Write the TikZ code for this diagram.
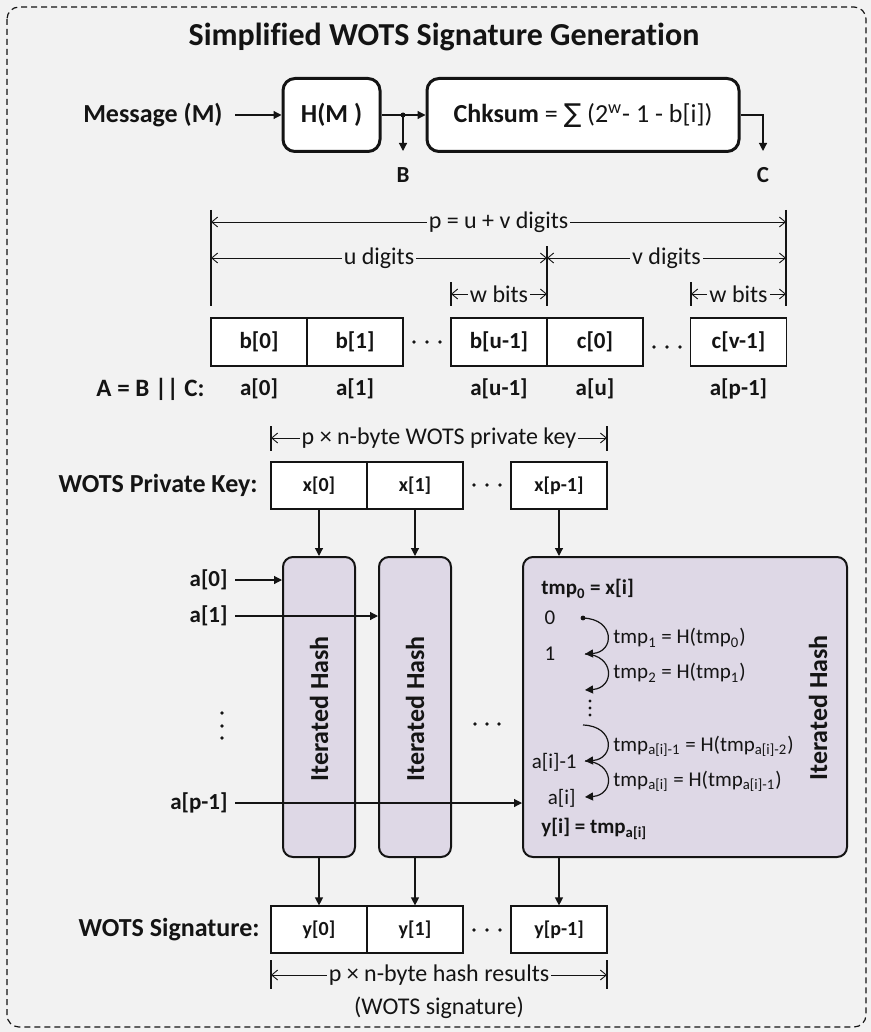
\documentclass[tikz,border=0pt]{standalone}
\usepackage{fontspec}
\setmainfont{Carlito}[Ligatures=NoCommon]
\newfontfamily\symfont{DejaVu Sans}
\usetikzlibrary{arrows.meta}
\definecolor{bgc}{RGB}{242,242,242}
\definecolor{ihfill}{RGB}{222,216,230}
\definecolor{ink}{RGB}{20,20,20}
\newcommand\fsz[1]{\fontsize{#1}{#1}\selectfont}
\begin{document}
\begin{tikzpicture}[x=0.5pt,y=-0.5pt,
  every node/.style={inner sep=0pt,text=ink},
  ttl/.style={font=\fsz{16}\bfseries},
  sidelab/.style={font=\fsz{13}\bfseries},
  lab/.style={font=\fsz{11.5}\bfseries},
  dimtxt/.style={font=\fsz{12},fill=bgc,inner xsep=1pt,inner ysep=1pt},
  steptxt/.style={font=\fsz{10.5}},
  procbox/.style={draw=ink,line width=1.5pt,rounded corners=6pt,fill=white,minimum height=36.5pt},
  cellA/.style={draw=ink,line width=0.6pt,fill=white,minimum width=48pt,minimum height=24pt,font=\fsz{11.5}\bfseries},
  cellB/.style={draw=ink,line width=0.6pt,fill=white,minimum width=48pt,minimum height=23.5pt,font=\fsz{10}\bfseries},
  ihbox/.style={draw=ink,line width=1pt,rounded corners=5pt,fill=ihfill,minimum height=150pt},
  ihtxt/.style={font=\fsz{13}\bfseries,rotate=90},
  arr/.style={draw=ink,line width=0.6pt,-{Triangle[length=4pt,width=4pt]}},
  wire/.style={draw=ink,line width=0.6pt},
  dimline/.style={draw=ink,line width=0.45pt,{Straight Barb[length=3pt,width=5pt]}-{Straight Barb[length=3pt,width=5pt]}},
  dimtick/.style={draw=ink,line width=0.8pt},
]
% background and dashed frame
\fill[bgc] (0,0) rectangle (871,1032);
\draw[ink,line width=0.6pt,dash pattern=on 3pt off 2pt,rounded corners=6pt] (7,7) rectangle (866,1027);

\node[ttl] (title) at (444,37) {Simplified WOTS Signature Generation};

% message digest and checksum
\node[sidelab,anchor=east] (msg) at (223,115) {Message (M)};
\node[procbox,minimum width=48.5pt,font=\fsz{13}\bfseries] (hm) at (331.5,115) {H(M )};
\node[procbox,minimum width=156pt,font=\fsz{13}] (chk) at (583,115)
  {\textbf{Chksum} = {\symfont ∑} (2\textsuperscript{w}- 1 - b[i])};
\coordinate (split) at (403,115);
\coordinate (btip) at (403,151);
\coordinate (ctip) at (763,151);
\node[lab] (B) at (403,175) {B};
\node[lab] (C) at (763,175) {C};
\draw[arr,shorten <=6pt] (msg.east) -- (hm.west);
\draw[wire] (hm.east) -- (split);
\draw[arr] (split) -- (chk.west);
\draw[arr] (split) -- (btip);
\fill[ink] (split) circle (1.25pt);
\draw[arr] (chk.east) -| (ctip);

% digit layout dimensions
\coordinate (pL) at (211,222); \coordinate (pR) at (786,222);
\coordinate (uL) at (211,258); \coordinate (uM) at (547,258); \coordinate (vR) at (786,258);
\coordinate (w1L) at (451,294); \coordinate (w1R) at (547,294);
\coordinate (w2L) at (691,294); \coordinate (w2R) at (786,294);
\draw[dimtick] (211,210) -- (211,306);
\draw[dimtick] (786,210) -- (786,306);
\draw[dimtick] (547,246) -- (547,306);
\draw[dimtick] (451,282) -- (451,306);
\draw[dimtick] (691,282) -- (691,306);
\draw[dimline] (pL) -- (pR) node[midway,dimtxt] {p = u + v digits};
\draw[dimline] (uL) -- (uM) node[midway,dimtxt] {u digits};
\draw[dimline] (uM) -- (vR) node[midway,dimtxt] {v digits};
\draw[dimline] (w1L) -- (w1R) node[midway,dimtxt] {w bits};
\draw[dimline] (w2L) -- (w2R) node[midway,dimtxt] {w bits};

% digits of B and C
\node[cellA] (b0) at (259,342) {b[0]};
\node[cellA] (b1) at (355,342) {b[1]};
\node[cellA] (bu) at (499,342) {b[u-1]};
\node[cellA] (c0) at (595,342) {c[0]};
\node[cellA] (cv) at (738.5,342) {c[v-1]};
\foreach \x in {414,427,440} \fill[ink] (\x,342) circle (0.9pt);
\foreach \x in {654,667,680} \fill[ink] (\x,347) circle (0.9pt);

\node[font=\fsz{12.5}\bfseries,anchor=east] (abc) at (205,389) {A = B || C:};
\node[lab] (la0) at (259,389) {a[0]};
\node[lab] (la1) at (355,389) {a[1]};
\node[lab] (lau1) at (499,389) {a[u-1]};
\node[lab] (lau) at (595,389) {a[u]};
\node[lab] (lap) at (738.5,389) {a[p-1]};

% private key
\draw[dimtick] (271,426) -- (271,451);
\draw[dimtick] (607,426) -- (607,451);
\coordinate (kL) at (271,438); \coordinate (kR) at (607,438);
\draw[dimline] (kL) -- (kR) node[midway,dimtxt] {p × n-byte WOTS private key};
\node[sidelab,anchor=east] (pk) at (258,485) {WOTS Private Key:};
\node[cellB] (x0) at (319,485.5) {x[0]};
\node[cellB] (x1) at (415,485.5) {x[1]};
\node[cellB] (xp) at (559,485.5) {x[p-1]};
\foreach \x in {474,487,500} \fill[ink] (\x,485) circle (0.9pt);

% iterated hash chains
\node[ihbox,minimum width=36pt] (ih1) at (319,707) {};
\node[ihbox,minimum width=36pt] (ih2) at (415,707) {};
\node[ihbox,minimum width=162pt] (ihb) at (685,707) {};
\node[ihtxt] (iht1) at (319,709) {Iterated Hash};
\node[ihtxt] (iht2) at (415,709) {Iterated Hash};
\node[ihtxt] (iht3) at (818,708) {Iterated Hash};

\draw[arr] (x0.south) -- (ih1.north);
\draw[arr] (x1.south) -- (ih2.north);
\draw[arr] (xp.south) -- (xp.south |- ihb.north);

\node[lab,anchor=east] (ia0) at (228,580) {a[0]};
\node[lab,anchor=east] (ia1) at (228,616) {a[1]};
\node[lab,anchor=east] (iap) at (228,803) {a[p-1]};
\draw[arr,shorten <=3.5pt] (ia0.east) -- (ia0.east -| ih1.west);
\draw[arr,shorten <=3.5pt] (ia1.east) -- (ia1.east -| ih2.west);
\draw[arr,shorten <=3.5pt] (iap.east) -- (iap.east -| ihb.west);
\foreach \y in {713,726,738} \fill[ink] (222,\y) circle (0.9pt);
\foreach \x in {475,487,499} \fill[ink] (\x,724) circle (0.9pt);

% steps inside one chain
\node[steptxt,font=\fsz{10.5}\bfseries,anchor=west] (t0) at (541,589) {tmp\textsubscript{0} = x[i]};
\node[steptxt] (n0) at (550,618) {0};
\node[steptxt] (n1) at (550,654) {1};
\node[steptxt,anchor=east] (nm1) at (577,762) {a[i]-1};
\node[steptxt,anchor=east] (nm) at (576,798) {a[i]};
\coordinate (s0) at (583,618);
\coordinate (s1) at (585,654);
\coordinate (s2) at (585,690);
\coordinate (s3) at (583,725);
\coordinate (s4) at (585,761);
\coordinate (s5) at (585,797);
\fill[ink] (s0) circle (1.2pt);
\draw[arr] (s0) .. controls (615,619) and (615,652) .. (s1);
\draw[arr] (s1) .. controls (615,655) and (615,688) .. (s2);
\draw[arr] (s3) .. controls (615,726) and (615,759) .. (s4);
\draw[arr] (s4) .. controls (615,762) and (615,795) .. (s5);
\foreach \y in {701,708,715} \fill[ink] (590,\y) circle (0.8pt);
\node[steptxt,anchor=west] (h1) at (613,638) {tmp\textsubscript{1} = H(tmp\textsubscript{0})};
\node[steptxt,anchor=west] (h2) at (613,673) {tmp\textsubscript{2} = H(tmp\textsubscript{1})};
\node[steptxt,anchor=west] (h3) at (613,746) {tmp\textsubscript{a[i]-1} = H(tmp\textsubscript{a[i]-2})};
\node[steptxt,anchor=west] (h4) at (613,781) {tmp\textsubscript{a[i]} = H(tmp\textsubscript{a[i]-1})};
\node[steptxt,font=\fsz{10.5}\bfseries,anchor=west] (yi) at (541,829) {y[i] = tmp\textsubscript{a[i]}};

% signature
\node[sidelab,anchor=east] (sig) at (260,930) {WOTS Signature:};
\node[cellB] (y0) at (319,929.5) {y[0]};
\node[cellB] (y1) at (415,929.5) {y[1]};
\node[cellB] (yp) at (559,929.5) {y[p-1]};
\foreach \x in {474,487,500} \fill[ink] (\x,930) circle (0.9pt);
\draw[arr] (ih1.south) -- (y0.north);
\draw[arr] (ih2.south) -- (y1.north);
\draw[arr] (yp.north |- ihb.south) -- (yp.north);

\draw[dimtick] (271,960) -- (271,989);
\draw[dimtick] (607,960) -- (607,989);
\coordinate (sL) at (271,975); \coordinate (sR) at (607,975);
\draw[dimline] (sL) -- (sR) node[midway,dimtxt] {p × n-byte hash results};
\node[font=\fsz{12}] (sigcap) at (439,1008) {(WOTS signature)};
\end{tikzpicture}
\end{document}
